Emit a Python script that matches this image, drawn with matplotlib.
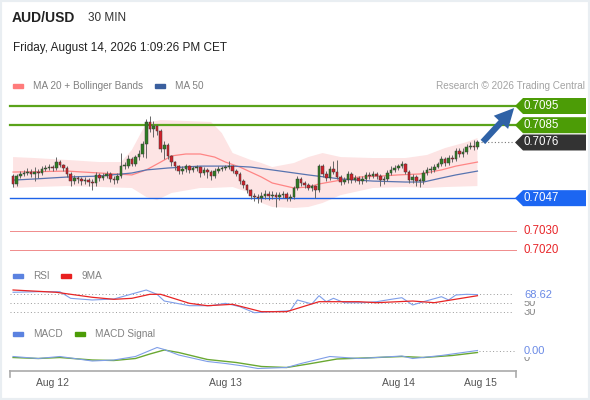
import numpy as np
import matplotlib.pyplot as plt
from matplotlib import transforms
from matplotlib.patches import Polygon, Rectangle, FancyArrowPatch

plt.rcParams['font.family'] = ['Liberation Sans', 'DejaVu Sans']

# prices in pips (price x 10000), 30 min candles
first_open = 7058.5
close = [7054.4, 7058.5, 7059.6, 7060.1, 7060.6, 7059.6, 7060.6, 7060.1, 7062.2, 7062.7,
         7063.2, 7062.7, 7065.8, 7064.3, 7062.7, 7059.6, 7055.9, 7057.5, 7057.0, 7055.9,
         7056.4, 7055.4, 7054.9, 7059.1, 7057.5, 7058.5, 7059.6, 7057.0, 7056.4, 7058.5,
         7063.7, 7063.7, 7067.4, 7064.8, 7068.4, 7070.0, 7075.2, 7086.7, 7083.0, 7084.6,
         7082.0, 7072.6, 7074.7, 7068.9, 7065.8, 7063.7, 7061.1, 7062.2, 7063.7, 7061.7,
         7062.7, 7063.2, 7060.1, 7061.7, 7060.6, 7058.5, 7061.1, 7062.2, 7062.7, 7063.2,
         7063.7, 7061.1, 7059.6, 7055.9, 7053.8, 7051.2, 7048.1, 7047.6, 7047.1, 7048.1,
         7049.2, 7048.1, 7048.6, 7047.6, 7048.6, 7049.2, 7047.1, 7047.6, 7052.3, 7057.0,
         7054.9, 7053.8, 7052.3, 7053.3, 7051.2, 7063.7, 7059.6, 7057.5, 7062.2, 7060.6,
         7058.0, 7055.4, 7056.4, 7059.6, 7056.4, 7057.5, 7055.9, 7057.0, 7059.1, 7058.5,
         7059.6, 7058.5, 7056.4, 7057.0, 7060.1, 7061.7, 7062.7, 7063.7, 7064.8, 7060.6,
         7056.4, 7058.0, 7055.9, 7055.9, 7060.1, 7061.7, 7061.7, 7063.2, 7064.8, 7067.4,
         7065.3, 7067.9, 7067.4, 7071.6, 7070.0, 7071.0, 7073.6, 7074.2, 7073.6, 7076.0]
high = [7059.5, 7059.5, 7061.0, 7061.5, 7062.5, 7062.0, 7063.0, 7062.0, 7063.5, 7064.5,
        7065.0, 7064.5, 7068.5, 7067.0, 7065.0, 7063.5, 7060.5, 7059.0, 7058.5, 7058.0,
        7058.0, 7057.5, 7057.0, 7060.5, 7060.0, 7060.0, 7061.0, 7060.5, 7058.5, 7060.0,
        7070.5, 7066.0, 7069.5, 7068.5, 7069.5, 7072.0, 7077.0, 7088.0, 7089.8, 7087.0,
        7085.5, 7083.0, 7077.0, 7075.5, 7069.5, 7066.5, 7064.5, 7063.5, 7065.0, 7064.5,
        7064.0, 7064.5, 7064.0, 7063.0, 7062.5, 7061.5, 7062.5, 7063.5, 7064.0, 7064.5,
        7066.5, 7064.5, 7062.0, 7060.5, 7057.0, 7054.5, 7052.0, 7049.5, 7049.0, 7050.0,
        7051.0, 7050.5, 7050.5, 7050.0, 7050.0, 7050.5, 7050.0, 7049.0, 7053.5, 7058.5,
        7058.0, 7056.0, 7055.0, 7054.5, 7054.0, 7065.0, 7065.0, 7061.0, 7064.0, 7066.5,
        7067.0, 7059.0, 7058.0, 7061.0, 7060.5, 7059.0, 7058.5, 7058.5, 7060.5, 7060.5,
        7061.0, 7060.5, 7059.5, 7058.5, 7061.5, 7063.5, 7064.5, 7065.0, 7066.5, 7065.5,
        7061.5, 7059.5, 7059.0, 7057.5, 7061.5, 7063.0, 7063.5, 7065.0, 7066.0, 7069.0,
        7068.5, 7069.5, 7069.5, 7073.0, 7073.0, 7073.0, 7075.0, 7076.0, 7077.5, 7077.5]
low = [7053.0, 7053.5, 7057.5, 7058.5, 7059.0, 7058.0, 7056.0, 7057.5, 7059.0, 7061.0,
       7061.5, 7061.0, 7061.5, 7063.0, 7061.0, 7058.0, 7053.5, 7054.5, 7055.0, 7054.0,
       7054.5, 7053.5, 7051.5, 7053.5, 7056.0, 7056.5, 7057.5, 7055.5, 7054.5, 7055.0,
       7057.5, 7062.0, 7062.5, 7063.5, 7063.5, 7067.0, 7068.5, 7068.0, 7081.5, 7079.0,
       7080.0, 7071.0, 7067.5, 7067.5, 7064.0, 7061.5, 7059.5, 7059.5, 7060.5, 7060.0,
       7060.5, 7061.0, 7058.0, 7059.0, 7057.5, 7056.5, 7057.5, 7060.0, 7061.0, 7061.5,
       7062.0, 7060.0, 7058.5, 7054.5, 7052.5, 7049.5, 7046.5, 7045.5, 7044.5, 7045.0,
       7046.5, 7046.0, 7046.5, 7042.5, 7046.0, 7047.0, 7045.5, 7045.5, 7046.5, 7051.0,
       7053.5, 7052.5, 7051.0, 7050.5, 7047.0, 7050.0, 7058.0, 7056.0, 7056.5, 7059.5,
       7057.0, 7054.0, 7054.5, 7055.0, 7055.0, 7055.5, 7054.5, 7054.5, 7055.5, 7057.0,
       7057.5, 7057.0, 7053.5, 7054.5, 7056.0, 7059.0, 7060.5, 7061.5, 7062.5, 7059.5,
       7055.0, 7055.0, 7053.5, 7053.0, 7054.5, 7059.0, 7060.0, 7060.5, 7062.5, 7063.5,
       7064.0, 7064.5, 7066.0, 7066.5, 7068.5, 7068.5, 7070.0, 7072.5, 7072.0, 7072.5]

# indicator lines read at some candle positions
ma20_idx = [0, 15, 24, 33, 37, 41, 44, 48, 52, 56, 59, 63, 69, 72, 78, 82, 85, 91, 96, 102, 107, 113, 119, 123, 129]
ma20_val = [7060.6, 7061.1, 7060.1, 7059.1, 7061.7, 7065.8, 7069.0, 7070.0, 7070.0, 7068.4, 7065.8, 7063.2, 7058.0,
            7054.9, 7052.3, 7052.8, 7054.4, 7056.4, 7058.0, 7058.5, 7059.1, 7059.6, 7061.7, 7063.7, 7065.8]
ma50_idx = [0, 6, 15, 24, 33, 37, 43, 52, 61, 66, 72, 82, 91, 100, 109, 114, 119, 123, 129]
ma50_val = [7056.4, 7057.0, 7058.0, 7058.5, 7060.1, 7061.7, 7062.7, 7063.7, 7063.7, 7063.2, 7061.7, 7059.1, 7057.0,
            7055.9, 7055.4, 7055.4, 7057.5, 7059.1, 7061.1]
bb_up_idx = [0, 6, 15, 24, 30, 33, 37, 41, 48, 55, 58, 61, 66, 69, 72, 78, 82, 86, 91, 100, 109, 115, 120, 126, 129]
bb_up_val = [7068.4, 7067.9, 7066.9, 7065.8, 7065.8, 7072.1, 7086.1, 7087.7, 7087.2, 7086.7, 7080.9, 7070.5, 7066.9,
             7065.3, 7063.2, 7065.3, 7068.4, 7070.5, 7068.4, 7067.9, 7067.9, 7069.5, 7073.1, 7076.2, 7078.3]
bb_lo_idx = [0, 6, 15, 24, 33, 37, 40, 44, 52, 55, 61, 66, 69, 72, 78, 82, 86, 91, 100, 109, 115, 120, 129]
bb_lo_val = [7052.3, 7052.8, 7053.3, 7052.8, 7052.3, 7047.6, 7046.0, 7049.7, 7052.3, 7052.3, 7052.8, 7049.7, 7044.5,
             7042.4, 7041.9, 7042.4, 7044.5, 7048.6, 7052.3, 7052.8, 7052.3, 7052.8, 7053.3]

rsi_idx = [0, 7, 13, 16, 22, 28, 32, 37, 40, 42, 49, 55, 59, 63, 67, 72, 77, 79, 83, 85, 87, 89, 92, 97, 101,
           105, 108, 111, 114, 119, 121, 123, 126, 129]
rsi_val = [73.8, 75.1, 75.1, 60.4, 56.7, 58.9, 67.8, 78.9, 69.3, 54.4, 44.0, 44.0, 49.3, 41.8, 28.4, 30.7, 32.9,
           56.7, 47.8, 66.2, 52.9, 60.4, 50.7, 50.7, 52.9, 58.2, 61.8, 45.6, 52.9, 64.0, 56.7, 67.8, 69.3, 68.62]
rsi_ma_idx = [0, 12, 22, 28, 33, 38, 41, 49, 54, 61, 69, 76, 85, 96, 101, 111, 117, 129]
rsi_ma_val = [78.9, 73.8, 62.7, 58.2, 60.4, 69.3, 69.3, 49.3, 44.0, 47.1, 30.7, 30.7, 52.9, 52.9, 50.7, 54.4, 50.7, 66.2]

# MACD in units of 1e-5
macd_idx = [0, 7, 13, 22, 28, 34, 36, 40, 42, 46, 54, 59, 64, 68, 76, 80, 88, 96, 101, 108, 111, 119, 129]
macd_val = [3, -1, 3, -6, -4, 3, 9, 21, 17, 6, -7, -11, -16, -21, -19, -11, 3, -1, 1, 4, -1, 5, 15]
sig_idx = [0, 7, 13, 22, 28, 34, 38, 42, 46, 54, 62, 69, 76, 82, 90, 101, 108, 114, 122, 129]
sig_val = [1, -1, 1, -4, -5, -1, 8, 16, 11, -3, -9, -17, -19, -12, -2, 1, 3, 1, 5, 11]

tick_pos = [11.0, 59.1, 107.1, 129.7]
tick_labels = ['Aug 12', 'Aug 13', 'Aug 14', 'Aug 15']

levels = [7095, 7085, 7076, 7047, 7030, 7020]
level_text = ['0.7095', '0.7085', '0.7076', '0.7047', '0.7030', '0.7020']

W, H = 590, 400
fig = plt.figure(figsize=(W / 100, H / 100), dpi=100)
fig.patch.set_facecolor('white')
fig.add_artist(Rectangle((0, 0), 1, 1, transform=fig.transFigure, fill=False,
                         edgecolor='#e9eef2', linewidth=3))


def px_axes(x0, y0, x1, y1):
    a = fig.add_axes([x0 / W, 1 - y1 / H, (x1 - x0) / W, (y1 - y0) / H])
    a.set_axis_off()
    return a


def ftext(x, y, s, **kw):
    fig.text(x / W, 1 - y / H, s, va='center', **kw)


xlim = (-0.85, 138.6)
ppp = 1.92  # pixels per pip

# header
ftext(12, 18, 'AUD/USD', fontsize=10, fontweight='bold', color='#222222')
ftext(88, 18, '30 MIN', fontsize=8.5, color='#333333')
ftext(13, 48, 'Friday, August 14, 2026 1:09:26 PM CET', fontsize=8.5, color='#222222')


def legend_patch(x, y, color):
    fig.add_artist(Rectangle((x / W, 1 - (y + 2) / H), 10 / W, 4 / H,
                             transform=fig.transFigure, color=color))


legend_patch(13, 86, '#ff7b7b')
ftext(33, 86, 'MA 20 + Bollinger Bands', fontsize=7.2, color='#808080')
legend_patch(155, 86, '#3a5f9e')
ftext(175, 86, 'MA 50', fontsize=7.2, color='#808080')
ftext(585, 86, 'Research © 2026 Trading Central', fontsize=7.2, color='#a3a3a3', ha='right')

# price panel
ax = px_axes(10, 95, 512, 260)
ax.set_xlim(*xlim)
ax.set_ylim(7095 - (260 - 106) / ppp, 7095 + (106 - 95) / ppp)

# bollinger band polygon from the read points
band = list(zip(bb_up_idx, bb_up_val)) + list(zip(bb_lo_idx[::-1], bb_lo_val[::-1]))
ax.add_patch(Polygon(band, closed=True, facecolor='#fde4e4', edgecolor='none', zorder=1))
ax.plot(ma20_idx, ma20_val, color='#ff8585', lw=0.9, zorder=2)
ax.plot(ma50_idx, ma50_val, color='#5874b0', lw=0.9, zorder=2)

opens = [first_open] + close[:-1]
x = np.arange(len(close))
o = np.array(opens)
c = np.array(close)
ax.vlines(x, low, high, color='#666666', lw=0.7, zorder=3)
up = c >= o
body_h = np.maximum(np.abs(c - o), 0.4)
ax.bar(x, body_h, bottom=np.minimum(o, c), width=0.72,
       color=np.where(up, '#2f7d22', '#d3202a'), edgecolor='#3a3a3a', linewidth=0.35, zorder=4)

blend = transforms.blended_transform_factory(fig.transFigure, ax.transData)
line_styles = {7095: ('#5aa31a', 1.6), 7085: ('#5aa31a', 1.6), 7047: ('#1d62e8', 1.0),
               7030: ('#f08c8c', 0.7), 7020: ('#f08c8c', 0.7)}
box_colors = {7095: '#4c9c06', 7085: '#4c9c06', 7076: '#333333', 7047: '#1c66f2'}
hb = 8.0 / ppp
for lv, txt in zip(levels, level_text):
    if lv in line_styles:
        col, lw = line_styles[lv]
        ax.plot([10 / W, 516 / W], [lv, lv], transform=blend, color=col, lw=lw, clip_on=False, zorder=2)
    if lv in box_colors:
        pts = [(515 / W, lv), (523 / W, lv + hb), (586 / W, lv + hb), (586 / W, lv - hb), (523 / W, lv - hb)]
        ax.add_patch(Polygon(pts, closed=True, transform=blend, facecolor=box_colors[lv],
                             edgecolor='none', clip_on=False, zorder=5))
        ax.text(524 / W, lv, txt, transform=blend, color='white', fontsize=8.3, va='center', zorder=6)
    else:
        ax.text(524 / W, lv, txt, transform=blend, color='#e8262a', fontsize=8.3, va='center')

ax.plot([481 / W, 514 / W], [close[-1], close[-1]], transform=blend, color='#777777',
        lw=0.8, ls=(0, (1, 2)), clip_on=False)
fig.add_artist(FancyArrowPatch((481 / W, 1 - 144 / H), (516 / W, 1 - 106 / H), transform=fig.transFigure,
                               arrowstyle='simple,head_width=1.0,head_length=1.0,tail_width=0.32',
                               mutation_scale=14, color='#2f62a6', lw=0))

# RSI panel
legend_patch(13, 276, '#5b82e0')
ftext(33, 276, 'RSI', fontsize=7.2, color='#808080')
legend_patch(61, 276, '#e82020')
ftext(81, 276, '9MA', fontsize=7.2, color='#808080')

ax_rsi = px_axes(10, 285, 512, 318)
ax_rsi.set_xlim(*xlim)
ax_rsi.set_ylim(50 - 15 / 0.45, 50 + 18 / 0.45)
for lv in [70, 50, 30]:
    ax_rsi.axhline(lv, color='#999999', lw=0.7, ls=(0, (1, 2.5)))
ax_rsi.plot(rsi_idx, rsi_val, color='#7f9ee8', lw=0.8)
ax_rsi.plot(rsi_ma_idx, rsi_ma_val, color='#e82424', lw=0.9)
wb = dict(facecolor='white', edgecolor='none', pad=0.5)
ftext(524, 312, '30', fontsize=8, color='#888888', bbox=wb)
ftext(524, 303, '50', fontsize=8, color='#888888', bbox=wb)
ftext(524, 295, '68.62', fontsize=8, color='#6a8ae6', bbox=wb)

# MACD panel
legend_patch(13, 334, '#5b82e0')
ftext(33, 334, 'MACD', fontsize=7.2, color='#808080')
legend_patch(75, 334, '#4c9c06')
ftext(95, 334, 'MACD Signal', fontsize=7.2, color='#808080')

ax_m = px_axes(10, 340, 512, 371)
ax_m.set_xlim(*xlim)
ax_m.set_ylim(-26, 36)
ax_m.plot(sig_idx, sig_val, color='#6aa832', lw=1.0)
ax_m.plot(macd_idx, macd_val, color='#7f9ee8', lw=0.8)
blend_m = transforms.blended_transform_factory(fig.transFigure, ax_m.transData)
ax_m.plot([479 / W, 514 / W], [macd_val[-1], macd_val[-1]], transform=blend_m, color='#999999',
          lw=0.7, ls=(0, (1, 2.5)), clip_on=False)
ftext(524, 358, '0', fontsize=8, color='#888888', bbox=wb)
ftext(524, 351, '0.00', fontsize=8, color='#6a8ae6', bbox=wb)

# time axis
ax_t = px_axes(10, 371, 516, 372)
ax_t.set_xlim(xlim[0], xlim[0] + (xlim[1] - xlim[0]) * 506 / 502)
ax_t.set_ylim(0, 1)
ax_t.plot([0, 1], [1, 1], transform=ax_t.transAxes, color='#aaaaaa', lw=1.2, clip_on=False)
for xe in [0, 1]:
    ax_t.plot([xe, xe], [1, -5], transform=ax_t.transAxes, color='#aaaaaa', lw=1.2, clip_on=False)
tick_tr = transforms.blended_transform_factory(ax_t.transData, fig.transFigure)
for tp, tl in zip(tick_pos, tick_labels):
    ax_t.text(tp, 1 - 383 / H, tl, transform=tick_tr,
              fontsize=7.5, color='#555555', ha='center', va='center')

fig.savefig('out.png', dpi=100)
